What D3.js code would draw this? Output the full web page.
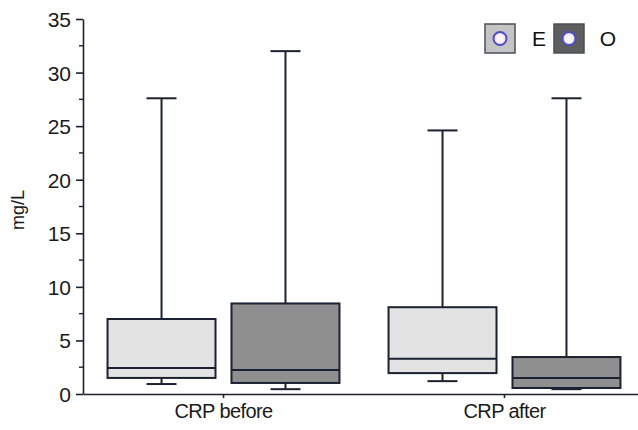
<!DOCTYPE html>
<html><head><meta charset="utf-8">
<script src="https://cdn.jsdelivr.net/npm/d3@7"></script>
<style>body{margin:0;background:#fff}svg{display:block;font-family:"Liberation Sans",Arial,sans-serif}</style>
</head><body><svg id="c" width="638" height="430"></svg>
<script>
const categories = ["CRP before", "CRP after"];
const groups = ["E", "O"];
// [min, q1, median, q3, max]
const valuesE = [[0.93, 1.5, 2.43, 7.0, 27.6], [1.2, 1.95, 3.3, 8.1, 24.6]];
const valuesO = [[0.45, 1.03, 2.24, 8.45, 32.0], [0.45, 0.56, 1.49, 3.45, 27.6]];
const yTicks = [0, 5, 10, 15, 20, 25, 30, 35];
const yMinorTicks = [2.5, 7.5, 12.5, 17.5, 22.5, 27.5, 32.5];

const fills = {E: "#e3e3e3", O: "#8f8f8f"};
const legendFills = {E: "#c4c4c4", O: "#5e5e5e"};
const ink = "#1b2130";
const font = "Liberation Sans, Arial, sans-serif";

const svg = d3.select("#c");
const y = d3.scaleLinear().domain([0, 35]).range([394, 19]);
const x0 = d3.scaleBand().domain(categories).range([83, 645]);
const x1 = d3.scaleBand().domain(groups).range([0, x0.bandwidth()]).paddingInner(0.129).paddingOuter(0.198);

// y axis
const yAxis = svg.append("g").attr("transform", "translate(83,0)")
  .call(d3.axisLeft(y).tickValues(yTicks).tickSize(7).tickPadding(5).tickSizeOuter(0));
yAxis.attr("font-size", null).attr("font-family", null);
yAxis.selectAll("text").style("font-size", "21px").style("font-family", font).attr("fill", "#1a1a1a").attr("dy", "0.36em");
yAxis.selectAll("line,path").attr("stroke", ink).attr("stroke-width", 1.6);
svg.append("g").selectAll("line").data(yMinorTicks).join("line")
  .attr("x1", 79).attr("x2", 83).attr("y1", d => y(d)).attr("y2", d => y(d))
  .attr("stroke", ink).attr("stroke-width", 1.4);

// x axis
const xAxis = svg.append("g").attr("transform", "translate(0,394)")
  .call(d3.axisBottom(x0).tickSize(4).tickPadding(6).tickSizeOuter(0));
xAxis.attr("font-size", null).attr("font-family", null);
xAxis.selectAll("text").style("font-size", "20px").style("font-family", font).attr("fill", "#1a1a1a").style("letter-spacing", "-0.6px");
xAxis.selectAll("line,path").attr("stroke", ink).attr("stroke-width", 1.6);

svg.append("text").attr("transform", "translate(24,210) rotate(-90)")
  .attr("text-anchor", "middle").style("font-size", "18px").attr("fill", "#1a1a1a").text("mg/L");

// boxes
const data = [];
categories.forEach((c, i) => {
  data.push({c, g: "E", v: valuesE[i]});
  data.push({c, g: "O", v: valuesO[i]});
});
const bw = x1.bandwidth();
const capW = 30;
const gBox = svg.append("g");
data.forEach(d => {
  const left = x0(d.c) + x1(d.g);
  const cx = left + bw / 2;
  const [mn, q1, md, q3, mx] = d.v;
  const g = gBox.append("g").attr("stroke", ink).attr("stroke-width", 2);
  g.append("line").attr("x1", cx).attr("x2", cx).attr("y1", y(mx)).attr("y2", y(q3));
  g.append("line").attr("x1", cx).attr("x2", cx).attr("y1", y(q1)).attr("y2", y(mn));
  g.append("line").attr("x1", cx - capW / 2).attr("x2", cx + capW / 2).attr("y1", y(mx)).attr("y2", y(mx));
  g.append("line").attr("x1", cx - capW / 2).attr("x2", cx + capW / 2).attr("y1", y(mn)).attr("y2", y(mn));
  g.append("rect").attr("x", left).attr("width", bw).attr("y", y(q3)).attr("height", y(q1) - y(q3))
    .attr("fill", fills[d.g]);
  g.append("line").attr("x1", left).attr("x2", left + bw).attr("y1", y(md)).attr("y2", y(md));
});

// legend
const defs = svg.append("defs");
const rg = defs.append("radialGradient").attr("id", "dot");
rg.append("stop").attr("offset", "0%").attr("stop-color", "#ffffff");
rg.append("stop").attr("offset", "60%").attr("stop-color", "#fbeef2");
rg.append("stop").attr("offset", "100%").attr("stop-color", "#e8c8e0");
const legX = {E: 485, O: 554};
const leg = svg.append("g");
groups.forEach(gk => {
  const lx = legX[gk];
  leg.append("rect").attr("x", lx).attr("y", 24).attr("width", 30).attr("height", 29)
    .attr("fill", legendFills[gk]).attr("stroke", "#4a4f58").attr("stroke-width", 1.5);
  leg.append("circle").attr("cx", lx + 15).attr("cy", 38.5).attr("r", 6.5)
    .attr("fill", "url(#dot)").attr("stroke", "#4a50c8").attr("stroke-width", 2);
  leg.append("text").attr("x", lx + 54).attr("y", 46).style("font-size", "21px").attr("fill", "#111")
    .attr("text-anchor", "middle").text(gk);
});
</script></body></html>
